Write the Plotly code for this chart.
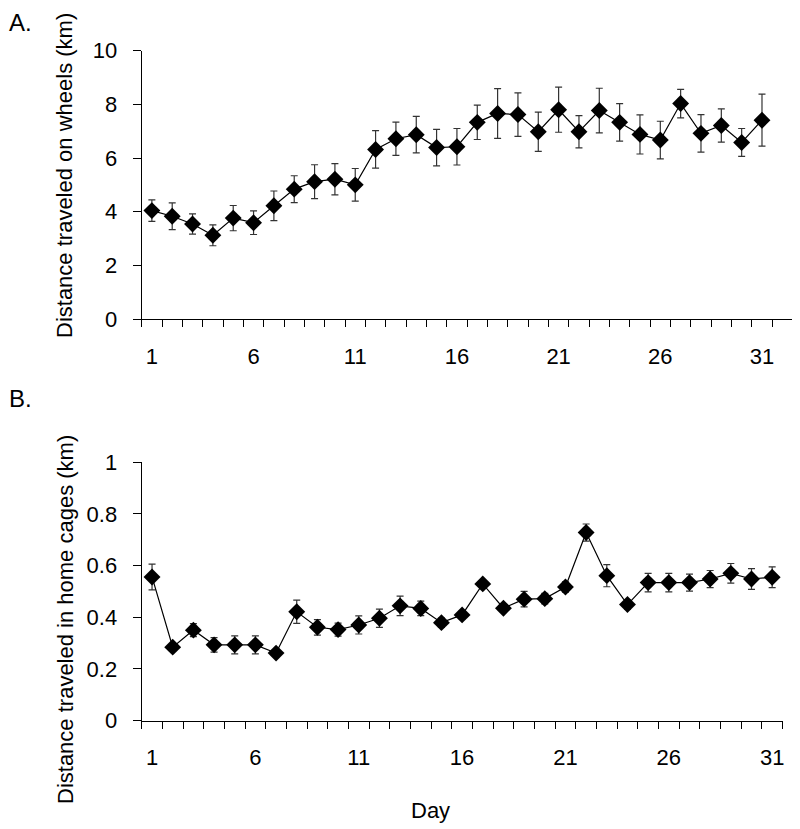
import plotly.graph_objects as go

days = list(range(1, 32))
wheel_km = [4.04, 3.83, 3.54, 3.12, 3.76, 3.59, 4.22, 4.84, 5.12, 5.21, 5.00,
            6.32, 6.72, 6.87, 6.39, 6.42, 7.33, 7.66, 7.62, 6.98, 7.80, 6.98,
            7.77, 7.33, 6.88, 6.67, 8.03, 6.92, 7.21, 6.58, 7.41]
wheel_sem = [0.40, 0.50, 0.38, 0.39, 0.47, 0.44, 0.55, 0.50, 0.63, 0.58, 0.61,
             0.70, 0.62, 0.68, 0.68, 0.68, 0.64, 0.93, 0.81, 0.73, 0.84, 0.60,
             0.83, 0.70, 0.73, 0.70, 0.53, 0.70, 0.62, 0.52, 0.97]
cage_km = [0.556, 0.284, 0.350, 0.293, 0.293, 0.293, 0.261, 0.421, 0.361, 0.352,
           0.370, 0.396, 0.444, 0.434, 0.379, 0.409, 0.529, 0.435, 0.470, 0.472,
           0.517, 0.728, 0.561, 0.449, 0.534, 0.534, 0.534, 0.548, 0.570, 0.548,
           0.555]
cage_sem = [0.050, 0.012, 0.025, 0.028, 0.035, 0.035, 0.010, 0.045, 0.030, 0.025,
            0.035, 0.035, 0.038, 0.028, 0.018, 0.015, 0.010, 0.015, 0.030, 0.020,
            0.020, 0.033, 0.043, 0.018, 0.036, 0.036, 0.033, 0.033, 0.038, 0.040,
            0.040]

x_tick_vals = [1, 6, 11, 16, 21, 26, 31]
x_tick_text = ["1", "6", "11", "16", "21", "26", "31"]
a_y_ticks = [0, 2, 4, 6, 8, 10]
b_y_ticks = [0, 0.2, 0.4, 0.6, 0.8, 1]
b_y_text = ["0", "0.2", "0.4", "0.6", "0.8", "1"]

FONT = "Liberation Sans, Arial, sans-serif"
W, H = 800, 829
OFF = 8  # page body margin offset of the figure inside the window

def px(x):
    return (x - OFF) / W

def py(y):
    return 1 - (y - OFF) / H

fig = go.Figure()

marker = dict(symbol="diamond", size=13, color="black")
line = dict(color="black", width=1.2)

fig.add_trace(go.Scatter(
    x=days, y=wheel_km, mode="lines+markers", marker=marker, line=line,
    error_y=dict(type="data", array=wheel_sem, visible=True, color="#333333",
                 thickness=1.2, width=3.5),
    xaxis="x", yaxis="y", showlegend=False))

fig.add_trace(go.Scatter(
    x=days, y=cage_km, mode="lines+markers", marker=marker, line=line,
    error_y=dict(type="data", array=cage_sem, visible=True, color="#333333",
                 thickness=1.2, width=3.5),
    xaxis="x2", yaxis="y2", showlegend=False))

common_x = dict(
    automargin=False,
    showline=True, linecolor="black", linewidth=1.2,
    showgrid=False, zeroline=False,
    tickmode="array", tickvals=x_tick_vals, ticktext=x_tick_text,
    ticks="outside", ticklen=7, tickcolor="rgba(0,0,0,0)",
    ticklabelstandoff=10,
    tickfont=dict(family=FONT, size=22, color="black"),
)
common_y = dict(
    automargin=False,
    showline=True, linecolor="black", linewidth=1.2,
    showgrid=False, zeroline=False,
    ticks="outside", ticklen=8, tickcolor="black", tickwidth=1.2,
    ticklabelstandoff=11,
    tickfont=dict(family=FONT, size=22, color="black"),
)

fig.update_layout(
    template="none",
    width=W, height=H,
    margin=dict(l=0, r=0, t=0, b=0, pad=0),
    paper_bgcolor="white", plot_bgcolor="white",
    font=dict(family=FONT, size=22, color="black"),
    xaxis=dict(domain=[px(141.7), px(792.5)], range=[0.5, 32.5], anchor="y",
               minor=dict(tickmode="array", tickvals=[i + 0.5 for i in range(0, 33)],
                          ticks="outside", ticklen=7, tickcolor="black", tickwidth=1.2),
               **common_x),
    yaxis=dict(domain=[py(319), py(50.7)], range=[0, 10], anchor="x",
               tickmode="array", tickvals=a_y_ticks, ticktext=[str(v) for v in a_y_ticks],
               **common_y),
    xaxis2=dict(domain=[px(141.7), px(782.5)], range=[0.5, 31.5], anchor="y2",
                minor=dict(tickmode="array", tickvals=[i + 0.5 for i in range(0, 32)],
                           ticks="outside", ticklen=7, tickcolor="black", tickwidth=1.2),
                **common_x),
    yaxis2=dict(domain=[py(720.5), py(462.3)], range=[0, 1], anchor="x2",
                tickmode="array", tickvals=b_y_ticks, ticktext=b_y_text,
                **common_y),
    annotations=[
        dict(text="A.", x=px(7), y=py(22), xref="paper", yref="paper",
             xanchor="left", yanchor="middle", showarrow=False,
             font=dict(family=FONT, size=24, color="black")),
        dict(text="B.", x=px(7), y=py(398), xref="paper", yref="paper",
             xanchor="left", yanchor="middle", showarrow=False,
             font=dict(family=FONT, size=24, color="black")),
        dict(text="Distance traveled on wheels (km)", textangle=-90,
             x=px(65), y=py(176), xref="paper", yref="paper",
             xanchor="center", yanchor="middle", showarrow=False,
             font=dict(family=FONT, size=22, color="black")),
        dict(text="Distance traveled in home cages (km)", textangle=-90,
             x=px(65), y=py(620), xref="paper", yref="paper",
             xanchor="center", yanchor="middle", showarrow=False,
             font=dict(family=FONT, size=22, color="black")),
        dict(text="Day", x=px(430), y=py(810), xref="paper", yref="paper",
             xanchor="center", yanchor="middle", showarrow=False,
             font=dict(family=FONT, size=22, color="black")),
    ],
)

fig.write_html("out.html")
